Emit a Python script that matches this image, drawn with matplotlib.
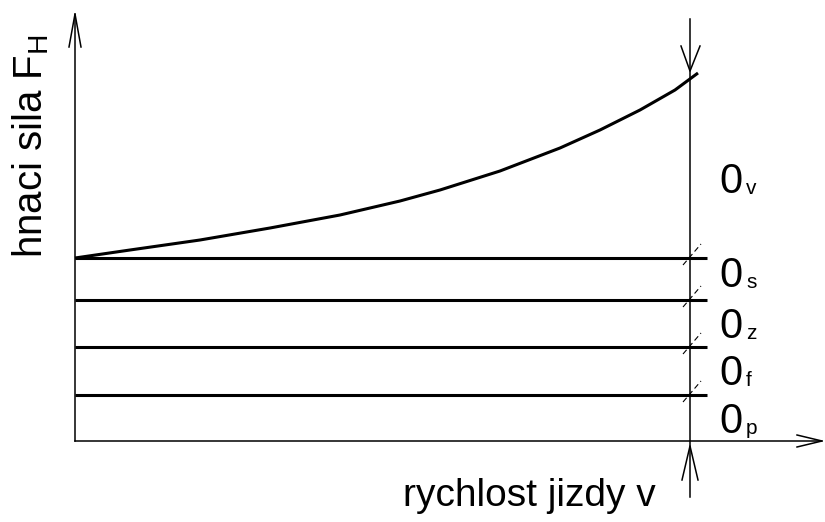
import matplotlib
matplotlib.use('Agg')
import matplotlib.pyplot as plt

plt.rcParams['font.family'] = ['Liberation Sans', 'DejaVu Sans']
plt.rcParams['mathtext.fontset'] = 'custom'
plt.rcParams['mathtext.rm'] = 'Liberation Sans'

# picture is drawn in pixel units (x to the right, y downwards)
krivka_x = [75, 130, 200, 270, 340, 400, 440, 500, 560, 600, 640, 675, 698]
krivka_y = [258, 250, 240, 228, 215, 201, 190, 171, 148, 130, 110, 90, 73]

urovne = [258, 300, 347, 395]          # horizontal resistance lines
popisky = ['v', 's', 'z', 'f', 'p']    # subscripts of the 0 labels
popisky_y = [193, 287, 338, 385, 433]  # baselines of the labels

x0, x_kon, y0 = 75, 690, 441

fig = plt.figure(figsize=(8.25, 5.22), dpi=100)
ax = fig.add_axes([0, 0, 1, 1])
ax.set_xlim(0, 825)
ax.set_ylim(522, 0)
ax.axis('off')

tenka = 1.1
tlusta = 2.2

# axes
ax.plot([x0, x0], [y0, 14], color='black', lw=tenka)
ax.plot([x0, 822], [y0, y0], color='black', lw=tenka)
# arrow heads (open)
ax.plot([69, x0, 81], [47, 14, 47], color='black', lw=tenka)
ax.plot([797, 822, 797], [435, y0, 447], color='black', lw=tenka)

# vertical line at max speed
ax.plot([x_kon, x_kon], [19, 497], color='black', lw=tenka)
ax.plot([681, x_kon, 700], [46, 71, 46], color='black', lw=tenka)
ax.plot([682, x_kon, 698], [480, 446, 480], color='black', lw=tenka)

# horizontal levels
for u in urovne:
    ax.plot([x0, 707], [u, u], color='black', lw=tlusta, solid_capstyle='butt')
    ax.plot([683, 701], [u + 7, u - 14], color='black', lw=0.8,
            linestyle=(0, (5, 3)))

# curve
ax.plot(krivka_x, krivka_y, color='black', lw=tlusta, solid_capstyle='butt')

# labels 0_x
for p, yy in zip(popisky, popisky_y):
    ax.text(719, yy, '0', fontsize=30, ha='left', va='baseline')
    ax.text(746, yy + 1, p, fontsize=15, ha='left', va='baseline')

ax.text(42, 258, r'hnaci sila F$_\mathrm{H}$', fontsize=29, rotation=90,
        rotation_mode='anchor', ha='left', va='baseline')
ax.text(403, 506, 'rychlost jizdy v', fontsize=28, ha='left', va='baseline')

fig.savefig('out.png', dpi=100)
